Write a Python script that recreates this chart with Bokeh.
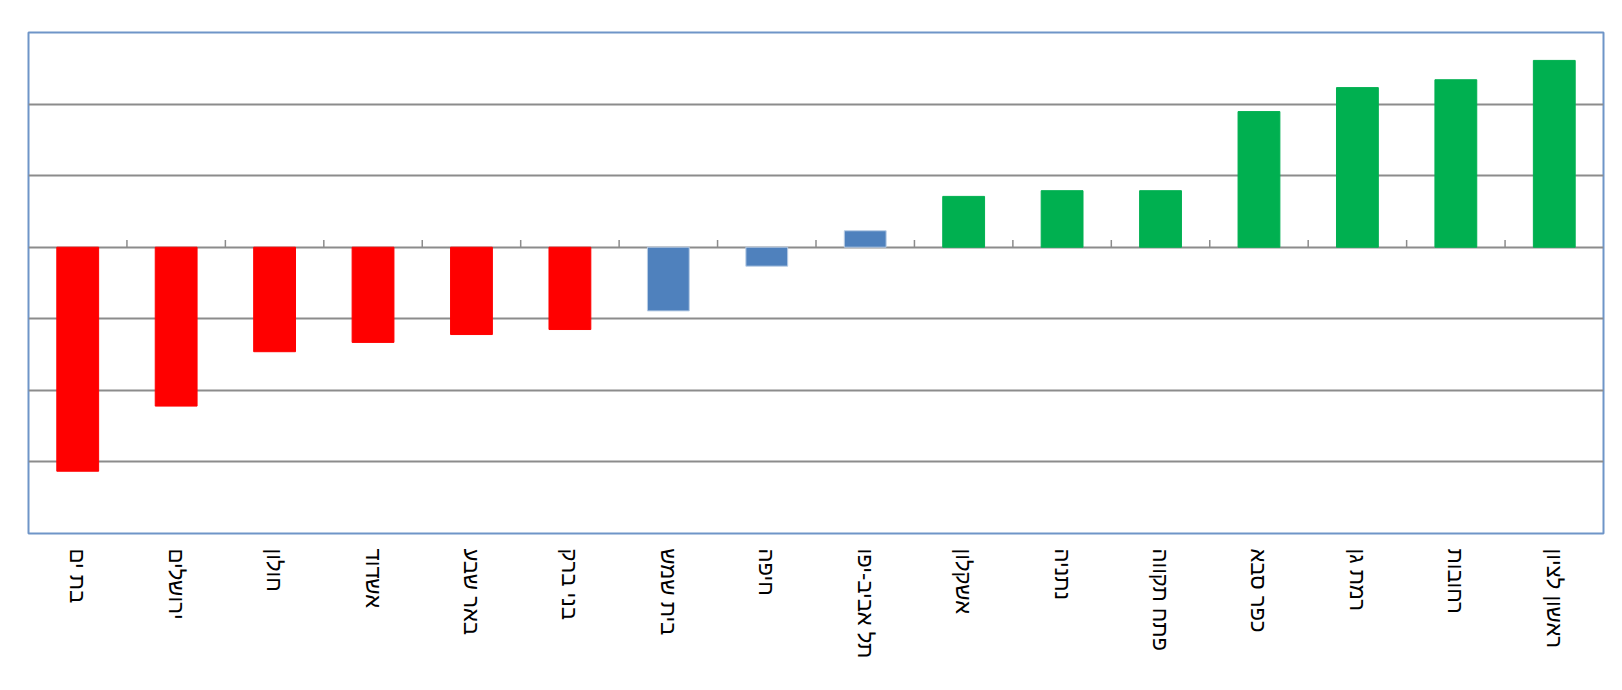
import math
from bokeh.plotting import figure
from bokeh.models import Range1d, FixedTicker, ColumnDataSource
from bokeh.embed import file_html
from bokeh.resources import INLINE

# ---- data ----
cities = ["בת ים", "ירושלים", "חולון", "אשדוד", "באר שבע", "בני ברק", "בית שמש", "חיפה",
          "תל אביב-יפו", "אשקלון", "נתניה", "פתח תקווה", "כפר סבא", "רמת גן", "רחובות", "ראשון לציון"]
values = [-3.13, -2.22, -1.46, -1.33, -1.22, -1.15, -0.89, -0.265,
          0.23, 0.71, 0.79, 0.79, 1.895, 2.23, 2.34, 2.61]
groups = ["low"] * 6 + ["mid"] * 3 + ["high"] * 7
grid_values = [-4, -3, -2, -1, 0, 1, 2, 3]

# ---- styles ----
fill_for = {"low": "#ff0000", "mid": "#4f81bd", "high": "#00b050"}
edge_for = {"low": "#ff0000", "mid": "#b9cde5", "high": "#00b050"}

n = len(cities)
xs = [i + 0.5 for i in range(n)]
src = ColumnDataSource(dict(
    x=xs, top=values, city=cities,
    fill=[fill_for[g] for g in groups],
    edge=[edge_for[g] for g in groups],
))

p = figure(width=1614, height=690, output_backend="svg", toolbar_location=None,
           x_range=Range1d(0, n), y_range=Range1d(min(grid_values), max(grid_values)),
           min_border_left=28, min_border_right=11, min_border_top=32, min_border_bottom=157)
p.background_fill_color = "white"
p.border_fill_color = "white"
p.outline_line_color = "#6f95c8"
p.outline_line_width = 2

p.vbar(x="x", top="top", bottom=0, width=0.425, source=src,
       fill_color="fill", line_color="edge", line_width=1)

# category boundary tick marks on the zero line
bounds = list(range(1, n))
p.segment(x0=bounds, x1=bounds, y0=[0] * len(bounds), y1=[0.1] * len(bounds),
          line_color="#8c8c8c", line_width=1.5)

p.yaxis.visible = False
p.ygrid.ticker = FixedTicker(ticks=grid_values)
p.ygrid.grid_line_color = "#8c8c8c"
p.ygrid.grid_line_width = 2
p.xgrid.visible = False

ax = p.xaxis[0]
ax.ticker = FixedTicker(ticks=xs)
ax.major_label_overrides = {x: c for x, c in zip(xs, cities)}
ax.major_label_orientation = -math.pi / 2
ax.axis_line_color = None
ax.major_tick_line_color = None
ax.minor_tick_line_color = None
ax.major_tick_out = 0
ax.major_label_standoff = 15
ax.major_label_text_font = "Liberation Sans"
ax.major_label_text_font_size = "22px"
ax.major_label_text_font_style = "normal"
ax.major_label_text_color = "black"

open("out.html", "w").write(file_html(p, INLINE))
